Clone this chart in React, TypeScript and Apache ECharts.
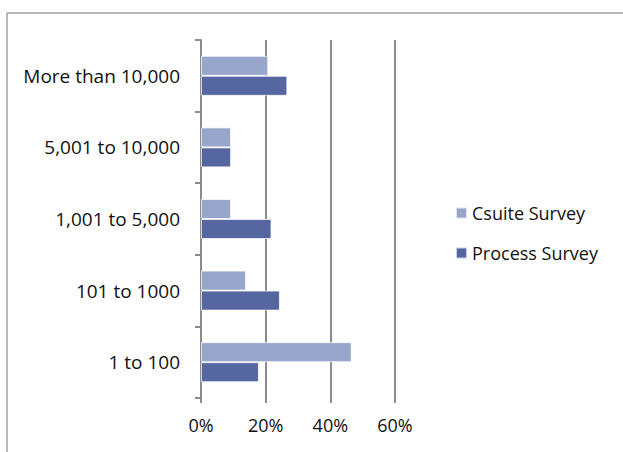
import React, { useEffect, useRef } from "react";
import * as echarts from "echarts";

const categories = ["1 to 100", "101 to 1000", "1,001 to 5,000", "5,001 to 10,000", "More than 10,000"];
const csuiteSurvey = [46.6, 13.9, 9.3, 9.3, 20.8];
const processSurvey = [17.9, 24.4, 21.8, 9.3, 26.7];
const seriesNames = ["Csuite Survey", "Process Survey"];
const xTicks = [0, 20, 40, 60];

const FONT = "'Open Sans', 'Noto Sans', sans-serif";
const GRID_COLOR = "#8c8c8c";

export default function App() {
  const ref = useRef<HTMLDivElement>(null);

  useEffect(() => {
    if (!ref.current) return;
    const chart = echarts.init(ref.current, null, { renderer: "svg" });
    chart.setOption({
      animation: false,
      backgroundColor: "#ffffff",
      textStyle: { fontFamily: FONT },
      grid: { left: 201, top: 40, right: 228, bottom: 54 },
      legend: {
        orient: "vertical",
        left: 455,
        top: 204,
        padding: 0,
        itemWidth: 11,
        itemHeight: 11,
        itemGap: 22,
        icon: "rect",
        textStyle: { fontFamily: FONT, fontSize: 18, color: "#111" },
        data: seriesNames,
      },
      xAxis: {
        type: "value",
        min: xTicks[0],
        max: xTicks[xTicks.length - 1],
        interval: 20,
        axisLine: { show: false },
        axisTick: { show: true, length: 5, lineStyle: { color: GRID_COLOR, width: 2 } },
        splitLine: { show: true, lineStyle: { color: GRID_COLOR, width: 2 } },
        axisLabel: {
          formatter: (v: number) => `${v}%`,
          fontFamily: FONT,
          fontSize: 18,
          color: "#111",
          margin: 18,
        },
      },
      yAxis: {
        type: "category",
        data: categories,
        axisLine: { show: true, lineStyle: { color: GRID_COLOR, width: 2 } },
        axisTick: { show: true, length: 6, lineStyle: { color: GRID_COLOR, width: 2 } },
        axisLabel: { fontFamily: FONT, fontSize: 19, color: "#111", margin: 21 },
      },
      series: [
        {
          name: seriesNames[0],
          type: "bar",
          data: csuiteSurvey,
          barWidth: 20,
          barGap: "0%",
          barCategoryGap: "44%",
          itemStyle: { color: "#98a6cc", borderColor: "rgba(255,255,255,0.7)", borderWidth: 1 },
        },
        {
          name: seriesNames[1],
          type: "bar",
          data: processSurvey,
          barWidth: 20,
          barGap: "0%",
          itemStyle: { color: "#5566a0", borderColor: "rgba(255,255,255,0.7)", borderWidth: 1 },
        },
      ],
      graphic: [
        { type: "line", shape: { x1: 7, y1: 13, x2: 623, y2: 13 }, style: { stroke: "#a0a0a0", lineWidth: 1.5 } },
        { type: "line", shape: { x1: 7, y1: 13, x2: 7, y2: 452 }, style: { stroke: "#a0a0a0", lineWidth: 1.5 } },
      ],
    });
    return () => chart.dispose();
  }, []);

  return (
    <div
      ref={ref}
      style={{ position: "fixed", left: 0, top: 0, width: 623, height: 452 }}
    />
  );
}
